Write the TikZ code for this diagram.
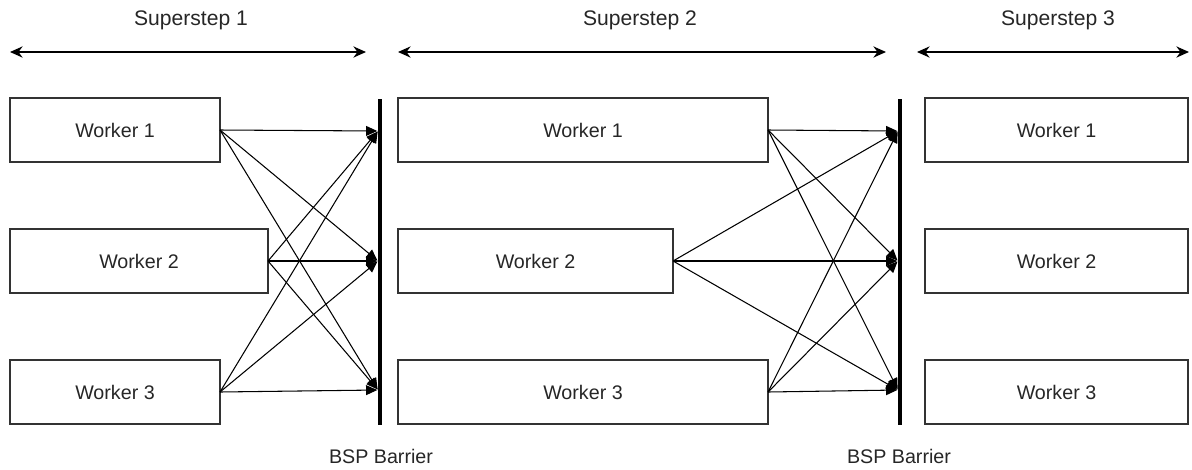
\documentclass[tikz,border=0pt]{standalone}
\usepackage{fontspec}
\setmainfont{Liberation Sans}
\usetikzlibrary{arrows.meta}

\tikzset{
  worker/.style={draw=black!80, line width=1.4pt, rectangle, minimum height=1.6cm,
                 outer sep=0pt, text=black!85, font=\fontsize{14}{16}\selectfont},
  msg/.style={-{Triangle[length=8pt,width=7pt]}, line width=0.75pt, shorten >=0.5pt},
  span/.style={{Stealth[length=9pt,width=8pt,inset=3pt]}-{Stealth[length=9pt,width=8pt,inset=3pt]}, line width=1.1pt},
  lbl/.style={text=black!85, font=\fontsize{14}{16}\selectfont},
  head/.style={text=black!85, font=\fontsize{15}{17}\selectfont}
}

\begin{document}
\begin{tikzpicture}[x=0.025cm, y=-0.025cm]

    % Frame
    \useasboundingbox (0,0) rectangle (1192,469);

    % Superstep spans
    \coordinate (s1l) at (10,52);   \coordinate (s1r) at (366,52);
    \coordinate (s2l) at (398,52);  \coordinate (s2r) at (886,52);
    \coordinate (s3l) at (917,52);  \coordinate (s3r) at (1189,52);

    \draw[span] (s1l) -- (s1r);
    \draw[span] (s2l) -- (s2r);
    \draw[span] (s3l) -- (s3r);

    \node[head] (t1) at (191,20) {Superstep 1};
    \node[head] (t2) at (640,20) {Superstep 2};
    \node[head] (t3) at (1058,20) {Superstep 3};

    % Workers, superstep 1
    \node[worker, minimum width=5.25cm]  (a1) at (115,130) {Worker 1};
    \node[worker, minimum width=6.45cm]  (a2) at (139,261) {Worker 2};
    \node[worker, minimum width=5.25cm]  (a3) at (115,392) {Worker 3};

    % Workers, superstep 2
    \node[worker, minimum width=9.25cm]  (c1) at (583,130) {Worker 1};
    \node[worker, minimum width=6.875cm] (c2) at (535.5,261) {Worker 2};
    \node[worker, minimum width=9.25cm]  (c3) at (583,392) {Worker 3};

    % Workers, superstep 3
    \node[worker, minimum width=6.575cm] (e1) at (1056.5,130) {Worker 1};
    \node[worker, minimum width=6.575cm] (e2) at (1056.5,261) {Worker 2};
    \node[worker, minimum width=6.575cm] (e3) at (1056.5,392) {Worker 3};

    % Barriers
    \coordinate (bt1) at (380,99);  \coordinate (bb1) at (380,425);
    \coordinate (bt2) at (900,99);  \coordinate (bb2) at (900,425);
    \draw[line width=2.8pt] (bt1) -- (bb1);
    \draw[line width=2.8pt] (bt2) -- (bb2);

    \node[lbl] (n1) at (381,456) {BSP Barrier};
    \node[lbl] (n2) at (899,456) {BSP Barrier};

    % Arrival points on the barriers
    \coordinate (b1) at (378,131);
    \coordinate (b2) at (378,261);
    \coordinate (b3) at (378,390);
    \coordinate (d1) at (898,131);
    \coordinate (d2) at (898,261);
    \coordinate (d3) at (898,390);

    % Messages
    \foreach \i in {1,2,3}{
      \foreach \j in {1,2,3}{
        \draw[msg] (a\i.east) -- (b\j);
        \draw[msg] (c\i.east) -- (d\j);
      }
    }

\end{tikzpicture}
\end{document}
